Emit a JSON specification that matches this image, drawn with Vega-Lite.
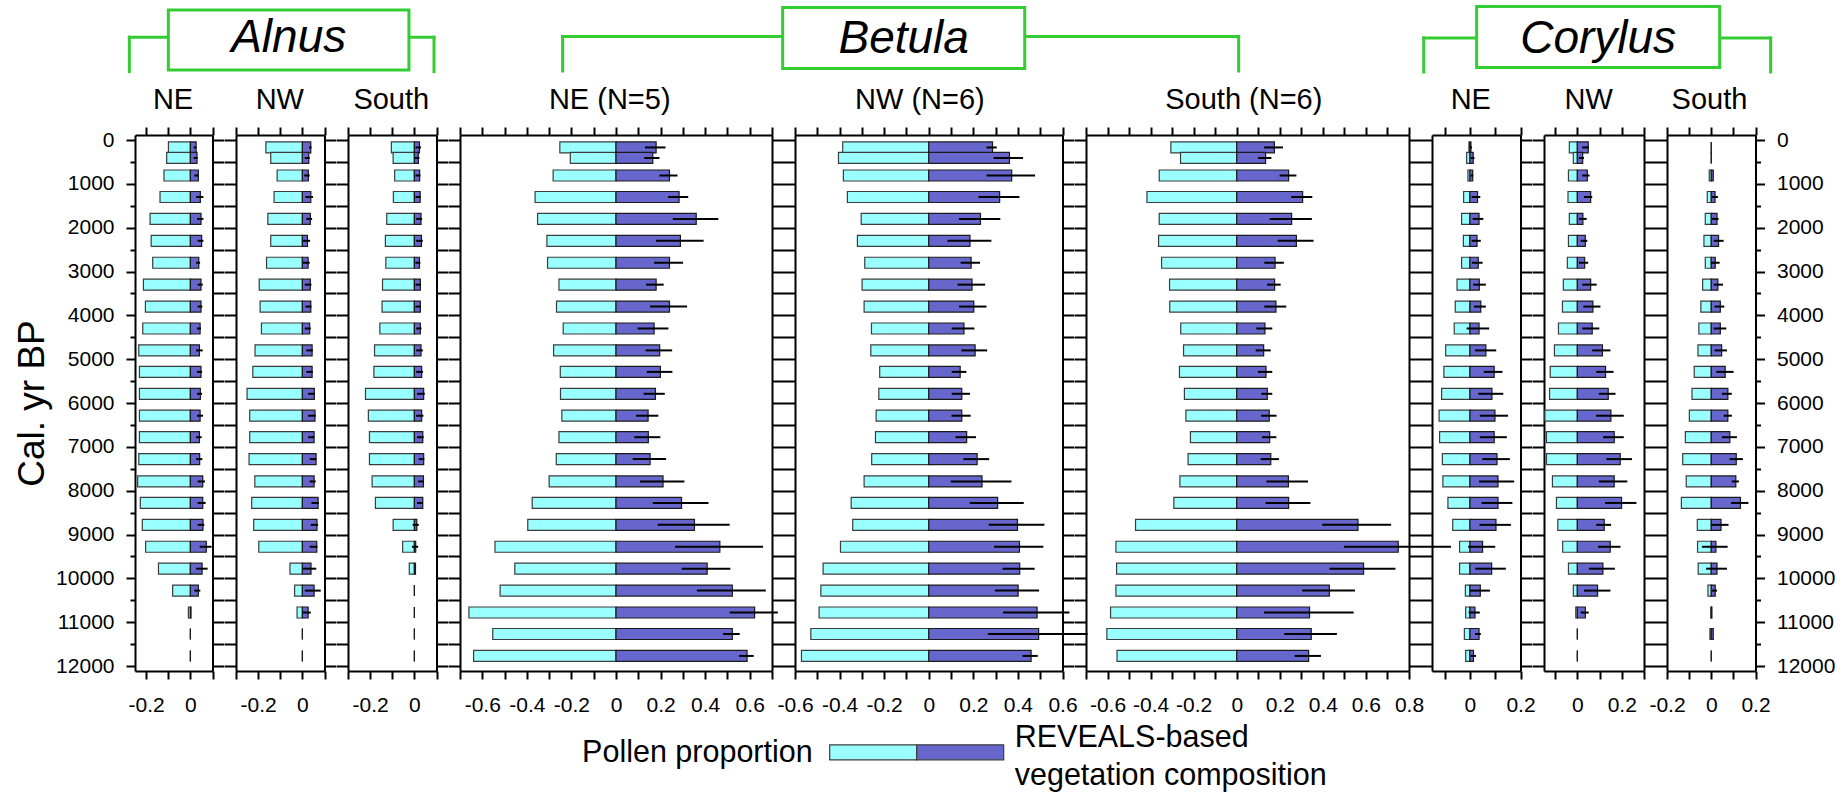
{
"$schema": "https://vega.github.io/schema/vega-lite/v6.json",
"background": "white",
"padding": {"left": 13, "top": 5, "right": 5, "bottom": 5},
"datasets": {
"alnus_ne": [
{"year":170,"pollen":-0.099,"reveals":0.026,"lo":0.015,"hi":0.028},
{"year":410,"pollen":-0.107,"reveals":0.030,"lo":0.015,"hi":0.033},
{"year":810,"pollen":-0.119,"reveals":0.036,"lo":0.018,"hi":0.036},
{"year":1300,"pollen":-0.137,"reveals":0.045,"lo":0.026,"hi":0.059},
{"year":1800,"pollen":-0.182,"reveals":0.048,"lo":0.030,"hi":0.059},
{"year":2300,"pollen":-0.177,"reveals":0.051,"lo":0.033,"hi":0.059},
{"year":2800,"pollen":-0.170,"reveals":0.038,"lo":0.026,"hi":0.044},
{"year":3300,"pollen":-0.212,"reveals":0.048,"lo":0.033,"hi":0.056},
{"year":3800,"pollen":-0.203,"reveals":0.048,"lo":0.033,"hi":0.054},
{"year":4300,"pollen":-0.215,"reveals":0.044,"lo":0.030,"hi":0.048},
{"year":4800,"pollen":-0.233,"reveals":0.041,"lo":0.026,"hi":0.056},
{"year":5290,"pollen":-0.230,"reveals":0.048,"lo":0.030,"hi":0.053},
{"year":5790,"pollen":-0.230,"reveals":0.045,"lo":0.030,"hi":0.053},
{"year":6290,"pollen":-0.230,"reveals":0.044,"lo":0.030,"hi":0.057},
{"year":6780,"pollen":-0.230,"reveals":0.041,"lo":0.026,"hi":0.051},
{"year":7280,"pollen":-0.233,"reveals":0.042,"lo":0.026,"hi":0.054},
{"year":7790,"pollen":-0.238,"reveals":0.056,"lo":0.033,"hi":0.066},
{"year":8280,"pollen":-0.226,"reveals":0.056,"lo":0.033,"hi":0.069},
{"year":8780,"pollen":-0.217,"reveals":0.057,"lo":0.033,"hi":0.063},
{"year":9280,"pollen":-0.202,"reveals":0.072,"lo":0.042,"hi":0.096},
{"year":9780,"pollen":-0.144,"reveals":0.053,"lo":0.026,"hi":0.078},
{"year":10280,"pollen":-0.080,"reveals":0.036,"lo":0.018,"hi":0.045},
{"year":10780,"pollen":-0.009,"reveals":0.003,"lo":0.003,"hi":0.003},
{"year":11270,"pollen":0,"reveals":0,"lo":0,"hi":0},
{"year":11770,"pollen":0,"reveals":0,"lo":0,"hi":0}
],
"alnus_nw": [
{"year":170,"pollen":-0.165,"reveals":0.038,"lo":0.030,"hi":0.041},
{"year":410,"pollen":-0.143,"reveals":0.029,"lo":0.011,"hi":0.033},
{"year":810,"pollen":-0.114,"reveals":0.027,"lo":0.008,"hi":0.033},
{"year":1300,"pollen":-0.128,"reveals":0.038,"lo":0.014,"hi":0.048},
{"year":1800,"pollen":-0.156,"reveals":0.036,"lo":0.018,"hi":0.044},
{"year":2300,"pollen":-0.143,"reveals":0.023,"lo":0.003,"hi":0.035},
{"year":2800,"pollen":-0.162,"reveals":0.026,"lo":0.003,"hi":0.033},
{"year":3300,"pollen":-0.195,"reveals":0.036,"lo":0.011,"hi":0.041},
{"year":3800,"pollen":-0.191,"reveals":0.038,"lo":0.014,"hi":0.041},
{"year":4300,"pollen":-0.185,"reveals":0.033,"lo":0.011,"hi":0.038},
{"year":4800,"pollen":-0.214,"reveals":0.044,"lo":0.018,"hi":0.047},
{"year":5290,"pollen":-0.224,"reveals":0.044,"lo":0.018,"hi":0.047},
{"year":5790,"pollen":-0.250,"reveals":0.054,"lo":0.026,"hi":0.056},
{"year":6290,"pollen":-0.238,"reveals":0.057,"lo":0.026,"hi":0.060},
{"year":6780,"pollen":-0.238,"reveals":0.053,"lo":0.026,"hi":0.053},
{"year":7280,"pollen":-0.241,"reveals":0.062,"lo":0.033,"hi":0.063},
{"year":7790,"pollen":-0.215,"reveals":0.053,"lo":0.033,"hi":0.060},
{"year":8280,"pollen":-0.229,"reveals":0.071,"lo":0.041,"hi":0.075},
{"year":8780,"pollen":-0.220,"reveals":0.066,"lo":0.038,"hi":0.071},
{"year":9280,"pollen":-0.197,"reveals":0.065,"lo":0.033,"hi":0.068},
{"year":9780,"pollen":-0.056,"reveals":0.039,"lo":0.003,"hi":0.063},
{"year":10280,"pollen":-0.035,"reveals":0.053,"lo":0.011,"hi":0.083},
{"year":10780,"pollen":-0.024,"reveals":0.026,"lo":0.003,"hi":0.038},
{"year":11270,"pollen":0,"reveals":0,"lo":0,"hi":0},
{"year":11770,"pollen":0,"reveals":0,"lo":0,"hi":0}
],
"alnus_s": [
{"year":170,"pollen":-0.104,"reveals":0.023,"lo":0.005,"hi":0.030},
{"year":410,"pollen":-0.096,"reveals":0.018,"lo":0.002,"hi":0.023},
{"year":810,"pollen":-0.089,"reveals":0.024,"lo":0.005,"hi":0.027},
{"year":1300,"pollen":-0.095,"reveals":0.026,"lo":0.005,"hi":0.029},
{"year":1800,"pollen":-0.125,"reveals":0.030,"lo":0.008,"hi":0.035},
{"year":2300,"pollen":-0.131,"reveals":0.032,"lo":0.008,"hi":0.038},
{"year":2800,"pollen":-0.129,"reveals":0.023,"lo":0.005,"hi":0.027},
{"year":3300,"pollen":-0.144,"reveals":0.027,"lo":0.005,"hi":0.030},
{"year":3800,"pollen":-0.146,"reveals":0.027,"lo":0.005,"hi":0.030},
{"year":4300,"pollen":-0.156,"reveals":0.027,"lo":0.008,"hi":0.032},
{"year":4800,"pollen":-0.180,"reveals":0.030,"lo":0.008,"hi":0.038},
{"year":5290,"pollen":-0.183,"reveals":0.033,"lo":0.008,"hi":0.039},
{"year":5790,"pollen":-0.221,"reveals":0.042,"lo":0.012,"hi":0.047},
{"year":6290,"pollen":-0.208,"reveals":0.033,"lo":0.008,"hi":0.041},
{"year":6780,"pollen":-0.203,"reveals":0.038,"lo":0.012,"hi":0.042},
{"year":7280,"pollen":-0.203,"reveals":0.042,"lo":0.020,"hi":0.045},
{"year":7790,"pollen":-0.191,"reveals":0.041,"lo":0.017,"hi":0.042},
{"year":8280,"pollen":-0.176,"reveals":0.038,"lo":0.012,"hi":0.038},
{"year":8780,"pollen":-0.096,"reveals":0.011,"lo":-0.008,"hi":0.020},
{"year":9280,"pollen":-0.053,"reveals":0.006,"lo":-0.011,"hi":0.017},
{"year":9780,"pollen":-0.023,"reveals":0.005,"lo":0.005,"hi":0.005},
{"year":10280,"pollen":0,"reveals":0,"lo":0,"hi":0},
{"year":10780,"pollen":0,"reveals":0,"lo":0,"hi":0},
{"year":11270,"pollen":0,"reveals":0,"lo":0,"hi":0},
{"year":11770,"pollen":0,"reveals":0,"lo":0,"hi":0}
],
"betula_ne": [
{"year":170,"pollen":-0.252,"reveals":0.180,"lo":0.130,"hi":0.222},
{"year":410,"pollen":-0.205,"reveals":0.165,"lo":0.127,"hi":0.195},
{"year":810,"pollen":-0.282,"reveals":0.240,"lo":0.195,"hi":0.276},
{"year":1300,"pollen":-0.363,"reveals":0.283,"lo":0.234,"hi":0.324},
{"year":1800,"pollen":-0.352,"reveals":0.360,"lo":0.255,"hi":0.459},
{"year":2300,"pollen":-0.310,"reveals":0.289,"lo":0.180,"hi":0.393},
{"year":2800,"pollen":-0.307,"reveals":0.240,"lo":0.171,"hi":0.301},
{"year":3300,"pollen":-0.256,"reveals":0.180,"lo":0.135,"hi":0.214},
{"year":3800,"pollen":-0.267,"reveals":0.240,"lo":0.153,"hi":0.319},
{"year":4300,"pollen":-0.237,"reveals":0.171,"lo":0.097,"hi":0.235},
{"year":4800,"pollen":-0.280,"reveals":0.196,"lo":0.133,"hi":0.252},
{"year":5290,"pollen":-0.250,"reveals":0.199,"lo":0.138,"hi":0.253},
{"year":5790,"pollen":-0.249,"reveals":0.177,"lo":0.124,"hi":0.219},
{"year":6290,"pollen":-0.243,"reveals":0.144,"lo":0.090,"hi":0.190},
{"year":6780,"pollen":-0.256,"reveals":0.145,"lo":0.082,"hi":0.199},
{"year":7280,"pollen":-0.268,"reveals":0.153,"lo":0.075,"hi":0.225},
{"year":7790,"pollen":-0.300,"reveals":0.211,"lo":0.108,"hi":0.307},
{"year":8280,"pollen":-0.376,"reveals":0.294,"lo":0.165,"hi":0.415},
{"year":8780,"pollen":-0.396,"reveals":0.352,"lo":0.187,"hi":0.510},
{"year":9280,"pollen":-0.543,"reveals":0.466,"lo":0.265,"hi":0.660},
{"year":9780,"pollen":-0.454,"reveals":0.409,"lo":0.295,"hi":0.513},
{"year":10280,"pollen":-0.520,"reveals":0.522,"lo":0.363,"hi":0.672},
{"year":10780,"pollen":-0.660,"reveals":0.622,"lo":0.510,"hi":0.726},
{"year":11270,"pollen":-0.553,"reveals":0.522,"lo":0.480,"hi":0.555},
{"year":11770,"pollen":-0.639,"reveals":0.588,"lo":0.552,"hi":0.618}
],
"betula_nw": [
{"year":170,"pollen":-0.386,"reveals":0.286,"lo":0.259,"hi":0.305},
{"year":410,"pollen":-0.405,"reveals":0.362,"lo":0.291,"hi":0.423},
{"year":810,"pollen":-0.383,"reveals":0.372,"lo":0.259,"hi":0.477},
{"year":1300,"pollen":-0.365,"reveals":0.318,"lo":0.223,"hi":0.407},
{"year":1800,"pollen":-0.303,"reveals":0.232,"lo":0.135,"hi":0.321},
{"year":2300,"pollen":-0.320,"reveals":0.185,"lo":0.084,"hi":0.281},
{"year":2800,"pollen":-0.287,"reveals":0.190,"lo":0.143,"hi":0.230},
{"year":3300,"pollen":-0.299,"reveals":0.194,"lo":0.129,"hi":0.253},
{"year":3800,"pollen":-0.290,"reveals":0.202,"lo":0.136,"hi":0.259},
{"year":4300,"pollen":-0.257,"reveals":0.158,"lo":0.103,"hi":0.205},
{"year":4800,"pollen":-0.260,"reveals":0.208,"lo":0.146,"hi":0.262},
{"year":5290,"pollen":-0.220,"reveals":0.141,"lo":0.103,"hi":0.169},
{"year":5790,"pollen":-0.224,"reveals":0.148,"lo":0.103,"hi":0.185},
{"year":6290,"pollen":-0.236,"reveals":0.148,"lo":0.102,"hi":0.188},
{"year":6780,"pollen":-0.239,"reveals":0.170,"lo":0.120,"hi":0.212},
{"year":7280,"pollen":-0.256,"reveals":0.217,"lo":0.155,"hi":0.271},
{"year":7790,"pollen":-0.290,"reveals":0.239,"lo":0.099,"hi":0.371},
{"year":8280,"pollen":-0.348,"reveals":0.309,"lo":0.184,"hi":0.426},
{"year":8780,"pollen":-0.341,"reveals":0.398,"lo":0.269,"hi":0.519},
{"year":9280,"pollen":-0.396,"reveals":0.407,"lo":0.293,"hi":0.514},
{"year":9780,"pollen":-0.474,"reveals":0.408,"lo":0.331,"hi":0.475},
{"year":10280,"pollen":-0.484,"reveals":0.401,"lo":0.297,"hi":0.495},
{"year":10780,"pollen":-0.492,"reveals":0.486,"lo":0.333,"hi":0.631},
{"year":11270,"pollen":-0.529,"reveals":0.493,"lo":0.265,"hi":0.713},
{"year":11770,"pollen":-0.571,"reveals":0.459,"lo":0.420,"hi":0.489}
],
"betula_s": [
{"year":170,"pollen":-0.306,"reveals":0.175,"lo":0.127,"hi":0.215},
{"year":410,"pollen":-0.261,"reveals":0.134,"lo":0.099,"hi":0.161},
{"year":810,"pollen":-0.360,"reveals":0.241,"lo":0.199,"hi":0.277},
{"year":1300,"pollen":-0.417,"reveals":0.306,"lo":0.253,"hi":0.351},
{"year":1800,"pollen":-0.360,"reveals":0.255,"lo":0.153,"hi":0.349},
{"year":2300,"pollen":-0.363,"reveals":0.277,"lo":0.190,"hi":0.357},
{"year":2800,"pollen":-0.349,"reveals":0.178,"lo":0.128,"hi":0.219},
{"year":3300,"pollen":-0.312,"reveals":0.176,"lo":0.141,"hi":0.204},
{"year":3800,"pollen":-0.311,"reveals":0.182,"lo":0.128,"hi":0.230},
{"year":4300,"pollen":-0.260,"reveals":0.131,"lo":0.091,"hi":0.165},
{"year":4800,"pollen":-0.247,"reveals":0.125,"lo":0.088,"hi":0.158},
{"year":5290,"pollen":-0.266,"reveals":0.136,"lo":0.099,"hi":0.165},
{"year":5790,"pollen":-0.243,"reveals":0.142,"lo":0.114,"hi":0.165},
{"year":6290,"pollen":-0.236,"reveals":0.151,"lo":0.113,"hi":0.185},
{"year":6780,"pollen":-0.215,"reveals":0.153,"lo":0.117,"hi":0.184},
{"year":7280,"pollen":-0.226,"reveals":0.158,"lo":0.111,"hi":0.196},
{"year":7790,"pollen":-0.264,"reveals":0.240,"lo":0.138,"hi":0.331},
{"year":8280,"pollen":-0.292,"reveals":0.241,"lo":0.134,"hi":0.342},
{"year":8780,"pollen":-0.470,"reveals":0.563,"lo":0.397,"hi":0.717},
{"year":9280,"pollen":-0.561,"reveals":0.750,"lo":0.498,"hi":0.995},
{"year":9780,"pollen":-0.558,"reveals":0.589,"lo":0.431,"hi":0.737},
{"year":10280,"pollen":-0.561,"reveals":0.430,"lo":0.304,"hi":0.549},
{"year":10780,"pollen":-0.586,"reveals":0.338,"lo":0.127,"hi":0.543},
{"year":11270,"pollen":-0.603,"reveals":0.346,"lo":0.221,"hi":0.465},
{"year":11770,"pollen":-0.556,"reveals":0.334,"lo":0.269,"hi":0.391}
],
"corylus_ne": [
{"year":170,"pollen":-0.004,"reveals":0.004,"lo":0.000,"hi":0.008},
{"year":410,"pollen":-0.013,"reveals":0.013,"lo":0.003,"hi":0.018},
{"year":810,"pollen":-0.008,"reveals":0.011,"lo":0.003,"hi":0.013},
{"year":1300,"pollen":-0.025,"reveals":0.030,"lo":0.007,"hi":0.041},
{"year":1800,"pollen":-0.033,"reveals":0.036,"lo":0.011,"hi":0.053},
{"year":2300,"pollen":-0.026,"reveals":0.028,"lo":0.007,"hi":0.043},
{"year":2800,"pollen":-0.033,"reveals":0.033,"lo":0.008,"hi":0.050},
{"year":3300,"pollen":-0.051,"reveals":0.037,"lo":0.013,"hi":0.063},
{"year":3800,"pollen":-0.058,"reveals":0.043,"lo":0.016,"hi":0.063},
{"year":4300,"pollen":-0.062,"reveals":0.036,"lo":-0.013,"hi":0.076},
{"year":4800,"pollen":-0.096,"reveals":0.063,"lo":0.020,"hi":0.104},
{"year":5290,"pollen":-0.103,"reveals":0.096,"lo":0.055,"hi":0.129},
{"year":5790,"pollen":-0.112,"reveals":0.087,"lo":0.033,"hi":0.132},
{"year":6290,"pollen":-0.122,"reveals":0.099,"lo":0.039,"hi":0.151},
{"year":6780,"pollen":-0.120,"reveals":0.096,"lo":0.039,"hi":0.146},
{"year":7280,"pollen":-0.109,"reveals":0.107,"lo":0.049,"hi":0.158},
{"year":7790,"pollen":-0.107,"reveals":0.111,"lo":0.036,"hi":0.175},
{"year":8280,"pollen":-0.087,"reveals":0.111,"lo":0.046,"hi":0.168},
{"year":8780,"pollen":-0.068,"reveals":0.103,"lo":0.038,"hi":0.162},
{"year":9280,"pollen":-0.041,"reveals":0.050,"lo":-0.007,"hi":0.100},
{"year":9780,"pollen":-0.041,"reveals":0.086,"lo":0.021,"hi":0.142},
{"year":10280,"pollen":-0.018,"reveals":0.041,"lo":0.000,"hi":0.079},
{"year":10780,"pollen":-0.017,"reveals":0.020,"lo":-0.005,"hi":0.039},
{"year":11270,"pollen":-0.022,"reveals":0.036,"lo":0.020,"hi":0.043},
{"year":11770,"pollen":-0.017,"reveals":0.014,"lo":0.003,"hi":0.024}
],
"corylus_nw": [
{"year":170,"pollen":-0.036,"reveals":0.049,"lo":0.022,"hi":0.052},
{"year":410,"pollen":-0.018,"reveals":0.024,"lo":0.007,"hi":0.030},
{"year":810,"pollen":-0.040,"reveals":0.045,"lo":0.022,"hi":0.055},
{"year":1300,"pollen":-0.042,"reveals":0.060,"lo":0.030,"hi":0.067},
{"year":1800,"pollen":-0.036,"reveals":0.025,"lo":0.007,"hi":0.042},
{"year":2300,"pollen":-0.040,"reveals":0.036,"lo":0.015,"hi":0.045},
{"year":2800,"pollen":-0.045,"reveals":0.033,"lo":0.007,"hi":0.049},
{"year":3300,"pollen":-0.063,"reveals":0.060,"lo":0.022,"hi":0.087},
{"year":3800,"pollen":-0.067,"reveals":0.070,"lo":0.027,"hi":0.104},
{"year":4300,"pollen":-0.085,"reveals":0.067,"lo":0.022,"hi":0.099},
{"year":4800,"pollen":-0.103,"reveals":0.113,"lo":0.067,"hi":0.149},
{"year":5290,"pollen":-0.122,"reveals":0.127,"lo":0.085,"hi":0.163},
{"year":5790,"pollen":-0.125,"reveals":0.139,"lo":0.097,"hi":0.172},
{"year":6290,"pollen":-0.146,"reveals":0.151,"lo":0.084,"hi":0.209},
{"year":6780,"pollen":-0.139,"reveals":0.166,"lo":0.116,"hi":0.209},
{"year":7280,"pollen":-0.139,"reveals":0.193,"lo":0.131,"hi":0.246},
{"year":7790,"pollen":-0.112,"reveals":0.166,"lo":0.097,"hi":0.225},
{"year":8280,"pollen":-0.094,"reveals":0.199,"lo":0.125,"hi":0.266},
{"year":8780,"pollen":-0.088,"reveals":0.121,"lo":0.085,"hi":0.152},
{"year":9280,"pollen":-0.066,"reveals":0.148,"lo":0.093,"hi":0.194},
{"year":9780,"pollen":-0.040,"reveals":0.115,"lo":0.052,"hi":0.169},
{"year":10280,"pollen":-0.018,"reveals":0.091,"lo":0.030,"hi":0.149},
{"year":10780,"pollen":-0.007,"reveals":0.036,"lo":0.015,"hi":0.051},
{"year":11270,"pollen":0,"reveals":0,"lo":0,"hi":0},
{"year":11770,"pollen":0,"reveals":0,"lo":0,"hi":0}
],
"corylus_s": [
{"year":170,"pollen":0,"reveals":0,"lo":0,"hi":0},
{"year":410,"pollen":0,"reveals":0,"lo":0,"hi":0},
{"year":810,"pollen":-0.009,"reveals":0.009,"lo":0.009,"hi":0.009},
{"year":1300,"pollen":-0.018,"reveals":0.017,"lo":0.003,"hi":0.030},
{"year":1800,"pollen":-0.027,"reveals":0.026,"lo":0.003,"hi":0.033},
{"year":2300,"pollen":-0.033,"reveals":0.033,"lo":0.011,"hi":0.056},
{"year":2800,"pollen":-0.027,"reveals":0.018,"lo":-0.002,"hi":0.038},
{"year":3300,"pollen":-0.039,"reveals":0.030,"lo":0.011,"hi":0.053},
{"year":3800,"pollen":-0.047,"reveals":0.041,"lo":0.015,"hi":0.059},
{"year":4300,"pollen":-0.056,"reveals":0.041,"lo":0.011,"hi":0.068},
{"year":4800,"pollen":-0.060,"reveals":0.047,"lo":0.015,"hi":0.071},
{"year":5290,"pollen":-0.077,"reveals":0.063,"lo":0.023,"hi":0.101},
{"year":5790,"pollen":-0.087,"reveals":0.075,"lo":0.048,"hi":0.093},
{"year":6290,"pollen":-0.099,"reveals":0.075,"lo":0.056,"hi":0.093},
{"year":6780,"pollen":-0.117,"reveals":0.084,"lo":0.048,"hi":0.116},
{"year":7280,"pollen":-0.129,"reveals":0.113,"lo":0.083,"hi":0.143},
{"year":7790,"pollen":-0.113,"reveals":0.111,"lo":0.093,"hi":0.125},
{"year":8280,"pollen":-0.135,"reveals":0.132,"lo":0.089,"hi":0.168},
{"year":8780,"pollen":-0.063,"reveals":0.044,"lo":0.000,"hi":0.078},
{"year":9280,"pollen":-0.062,"reveals":0.021,"lo":-0.042,"hi":0.074},
{"year":9780,"pollen":-0.059,"reveals":0.026,"lo":-0.023,"hi":0.071},
{"year":10280,"pollen":-0.015,"reveals":0.018,"lo":0.003,"hi":0.026},
{"year":10780,"pollen":-0.002,"reveals":0.003,"lo":0.003,"hi":0.003},
{"year":11270,"pollen":-0.006,"reveals":0.009,"lo":0.009,"hi":0.009},
{"year":11770,"pollen":0,"reveals":0,"lo":0,"hi":0}
]
},
"spacing": 5,
"bounds": "full",
"vconcat": [
{
"width": 1618, "height": 116,
"data": {"values": [{}]},
"layer": [
{"mark": {"type": "rule", "stroke": "#33CC33", "strokeWidth": 3, "strokeCap": "square"},
 "encoding": {"x": {"datum": -0.0035, "type": "quantitative", "scale": {"domain": [0, 1], "nice": false, "zero": false}, "axis": null}, "x2": {"datum": 0.1848}, "y": {"datum": 0.2784, "type": "quantitative", "scale": {"domain": [0, 1], "reverse": true, "nice": false, "zero": false}, "axis": null}}},
{"mark": {"type": "rule", "stroke": "#33CC33", "strokeWidth": 3, "strokeCap": "square"},
 "encoding": {"x": {"datum": -0.0035, "type": "quantitative"}, "y": {"datum": 0.2784, "type": "quantitative"}, "y2": {"datum": 0.574}}},
{"mark": {"type": "rule", "stroke": "#33CC33", "strokeWidth": 3, "strokeCap": "square"},
 "encoding": {"x": {"datum": 0.1848, "type": "quantitative"}, "y": {"datum": 0.2784, "type": "quantitative"}, "y2": {"datum": 0.574}}},
{"mark": {"type": "rect", "fill": "white", "stroke": "#33CC33", "strokeWidth": 3},
 "encoding": {"x": {"datum": 0.0206, "type": "quantitative"}, "x2": {"datum": 0.1693}, "y": {"datum": 0.0431, "type": "quantitative"}, "y2": {"datum": 0.5603}}},
{"mark": {"type": "text", "text": "Alnus", "fontSize": 46, "fontStyle": "italic", "align": "center", "baseline": "alphabetic", "font": "Liberation Sans", "color": "black"},
 "encoding": {"x": {"datum": 0.095, "type": "quantitative"}, "y": {"datum": 0.4078, "type": "quantitative"}}},
{"mark": {"type": "rule", "stroke": "#33CC33", "strokeWidth": 3, "strokeCap": "square"},
 "encoding": {"x": {"datum": 0.2643, "type": "quantitative"}, "x2": {"datum": 0.6821}, "y": {"datum": 0.2716, "type": "quantitative"}}},
{"mark": {"type": "rule", "stroke": "#33CC33", "strokeWidth": 3, "strokeCap": "square"},
 "encoding": {"x": {"datum": 0.2643, "type": "quantitative"}, "y": {"datum": 0.2716, "type": "quantitative"}, "y2": {"datum": 0.569}}},
{"mark": {"type": "rule", "stroke": "#33CC33", "strokeWidth": 3, "strokeCap": "square"},
 "encoding": {"x": {"datum": 0.6821, "type": "quantitative"}, "y": {"datum": 0.2716, "type": "quantitative"}, "y2": {"datum": 0.569}}},
{"mark": {"type": "rect", "fill": "white", "stroke": "#33CC33", "strokeWidth": 3},
 "encoding": {"x": {"datum": 0.4003, "type": "quantitative"}, "x2": {"datum": 0.5499}, "y": {"datum": 0.0224, "type": "quantitative"}, "y2": {"datum": 0.5474}}},
{"mark": {"type": "text", "text": "Betula", "fontSize": 46, "fontStyle": "italic", "align": "center", "baseline": "alphabetic", "font": "Liberation Sans", "color": "black"},
 "encoding": {"x": {"datum": 0.4751, "type": "quantitative"}, "y": {"datum": 0.418, "type": "quantitative"}}},
{"mark": {"type": "rule", "stroke": "#33CC33", "strokeWidth": 3, "strokeCap": "square"},
 "encoding": {"x": {"datum": 0.7965, "type": "quantitative"}, "x2": {"datum": 1.0109}, "y": {"datum": 0.2845, "type": "quantitative"}}},
{"mark": {"type": "rule", "stroke": "#33CC33", "strokeWidth": 3, "strokeCap": "square"},
 "encoding": {"x": {"datum": 0.7965, "type": "quantitative"}, "y": {"datum": 0.2845, "type": "quantitative"}, "y2": {"datum": 0.5776}}},
{"mark": {"type": "rule", "stroke": "#33CC33", "strokeWidth": 3, "strokeCap": "square"},
 "encoding": {"x": {"datum": 1.0109, "type": "quantitative"}, "y": {"datum": 0.2845, "type": "quantitative"}, "y2": {"datum": 0.5776}}},
{"mark": {"type": "rect", "fill": "white", "stroke": "#33CC33", "strokeWidth": 3},
 "encoding": {"x": {"datum": 0.8292, "type": "quantitative"}, "x2": {"datum": 0.9794}, "y": {"datum": 0.0138, "type": "quantitative"}, "y2": {"datum": 0.5379}}},
{"mark": {"type": "text", "text": "Corylus", "fontSize": 46, "fontStyle": "italic", "align": "center", "baseline": "alphabetic", "font": "Liberation Sans", "color": "black"},
 "encoding": {"x": {"datum": 0.9043, "type": "quantitative"}, "y": {"datum": 0.4138, "type": "quantitative"}}},
{"mark": {"type": "text", "text": "NE", "fontSize": 29, "align": "center", "baseline": "alphabetic", "font": "Liberation Sans", "color": "black"},
 "encoding": {"x": {"datum": 0.0235, "type": "quantitative"}, "y": {"datum": 0.8991, "type": "quantitative"}}},
{"mark": {"type": "text", "text": "NW", "fontSize": 29, "align": "center", "baseline": "alphabetic", "font": "Liberation Sans", "color": "black"},
 "encoding": {"x": {"datum": 0.0895, "type": "quantitative"}, "y": {"datum": 0.8991, "type": "quantitative"}}},
{"mark": {"type": "text", "text": "South", "fontSize": 29, "align": "center", "baseline": "alphabetic", "font": "Liberation Sans", "color": "black"},
 "encoding": {"x": {"datum": 0.1584, "type": "quantitative"}, "y": {"datum": 0.8991, "type": "quantitative"}}},
{"mark": {"type": "text", "text": "NE (N=5)", "fontSize": 29, "align": "center", "baseline": "alphabetic", "font": "Liberation Sans", "color": "black"},
 "encoding": {"x": {"datum": 0.2934, "type": "quantitative"}, "y": {"datum": 0.8991, "type": "quantitative"}}},
{"mark": {"type": "text", "text": "NW (N=6)", "fontSize": 29, "align": "center", "baseline": "alphabetic", "font": "Liberation Sans", "color": "black"},
 "encoding": {"x": {"datum": 0.4851, "type": "quantitative"}, "y": {"datum": 0.8991, "type": "quantitative"}}},
{"mark": {"type": "text", "text": "South (N=6)", "fontSize": 29, "align": "center", "baseline": "alphabetic", "font": "Liberation Sans", "color": "black"},
 "encoding": {"x": {"datum": 0.6853, "type": "quantitative"}, "y": {"datum": 0.8991, "type": "quantitative"}}},
{"mark": {"type": "text", "text": "NE", "fontSize": 29, "align": "center", "baseline": "alphabetic", "font": "Liberation Sans", "color": "black"},
 "encoding": {"x": {"datum": 0.8256, "type": "quantitative"}, "y": {"datum": 0.8991, "type": "quantitative"}}},
{"mark": {"type": "text", "text": "NW", "fontSize": 29, "align": "center", "baseline": "alphabetic", "font": "Liberation Sans", "color": "black"},
 "encoding": {"x": {"datum": 0.8985, "type": "quantitative"}, "y": {"datum": 0.8991, "type": "quantitative"}}},
{"mark": {"type": "text", "text": "South", "fontSize": 29, "align": "center", "baseline": "alphabetic", "font": "Liberation Sans", "color": "black"},
 "encoding": {"x": {"datum": 0.9731, "type": "quantitative"}, "y": {"datum": 0.8991, "type": "quantitative"}}}
]
},
{
"spacing": 23,
"bounds": "flush",
"hconcat": [
{
"width": 77.5, "height": 536, "data": {"name": "alnus_ne"},
"resolve": {"axis": {"x": "independent", "y": "independent"}},
"layer": [
{"mark": {"type": "bar", "orient": "horizontal", "size": 11, "fill": "#99FFFF", "stroke": "#3c3c3c", "strokeWidth": 1.2},
 "encoding": {
  "x": {"field": "pollen", "type": "quantitative", "scale": {"domain": [-0.25, 0.1], "nice": false, "zero": false}, "axis": {"orient": "bottom", "values": [-0.2, -0.1, 0, 0.1], "tickSize": 8, "labelPadding": 15, "labelExpr": "round(abs(datum.value)*10) % 2 === 0 ? toString(datum.value) : ''", "title": null}},
  "x2": {"datum": 0},
  "y": {"field": "year", "type": "quantitative", "scale": {"domain": [0, 12000], "reverse": true, "nice": false, "zero": false}, "axis": {"orient": "left", "values": [0,500,1000,1500,2000,2500,3000,3500,4000,4500,5000,5500,6000,6500,7000,7500,8000,8500,9000,9500,10000,10500,11000,11500,12000], "tickSize": {"condition": {"test": "datum.value % 1000 === 0", "value": 9}, "value": 5}, "labelPadding": 12, "labelExpr": "datum.value % 1000 === 0 ? toString(datum.value) : ''", "title": "Cal. yr BP", "titleFontSize": 37, "titlePadding": 4}}
 }},
{"mark": {"type": "bar", "orient": "horizontal", "size": 11, "fill": "#6666CC", "stroke": "#1a1a1a", "strokeWidth": 1.2},
 "encoding": {
  "x": {"field": "reveals", "type": "quantitative", "scale": {"domain": [-0.25, 0.1], "nice": false, "zero": false}, "axis": {"orient": "top", "values": [-0.2, -0.1, 0, 0.1], "tickSize": 8, "labels": false, "title": null}},
  "x2": {"datum": 0},
  "y": {"field": "year", "type": "quantitative", "scale": {"domain": [0, 12000], "reverse": true, "nice": false, "zero": false}, "axis": {"orient": "right", "values": [0,500,1000,1500,2000,2500,3000,3500,4000,4500,5000,5500,6000,6500,7000,7500,8000,8500,9000,9500,10000,10500,11000,11500,12000], "tickSize": 11.5, "labels": false, "title": null}}
 }},
{"mark": {"type": "rule", "stroke": "black", "strokeWidth": 2},
 "encoding": {
  "x": {"field": "lo", "type": "quantitative", "scale": {"domain": [-0.25, 0.1], "nice": false, "zero": false}, "axis": null},
  "x2": {"field": "hi"},
  "y": {"field": "year", "type": "quantitative", "scale": {"domain": [0, 12000], "reverse": true, "nice": false, "zero": false}, "axis": null}
 }}
]
},
{
"width": 88.5, "height": 536, "data": {"name": "alnus_nw"},
"resolve": {"axis": {"x": "independent", "y": "independent"}},
"layer": [
{"mark": {"type": "bar", "orient": "horizontal", "size": 11, "fill": "#99FFFF", "stroke": "#3c3c3c", "strokeWidth": 1.2},
 "encoding": {
  "x": {"field": "pollen", "type": "quantitative", "scale": {"domain": [-0.3, 0.1], "nice": false, "zero": false}, "axis": {"orient": "bottom", "values": [-0.3, -0.2, -0.1, 0, 0.1], "tickSize": 8, "labelPadding": 15, "labelExpr": "round(abs(datum.value)*10) % 2 === 0 ? toString(datum.value) : ''", "title": null}},
  "x2": {"datum": 0},
  "y": {"field": "year", "type": "quantitative", "scale": {"domain": [0, 12000], "reverse": true, "nice": false, "zero": false}, "axis": {"orient": "left", "values": [0,500,1000,1500,2000,2500,3000,3500,4000,4500,5000,5500,6000,6500,7000,7500,8000,8500,9000,9500,10000,10500,11000,11500,12000], "tickSize": 11.5, "labels": false, "title": null}}
 }},
{"mark": {"type": "bar", "orient": "horizontal", "size": 11, "fill": "#6666CC", "stroke": "#1a1a1a", "strokeWidth": 1.2},
 "encoding": {
  "x": {"field": "reveals", "type": "quantitative", "scale": {"domain": [-0.3, 0.1], "nice": false, "zero": false}, "axis": {"orient": "top", "values": [-0.3, -0.2, -0.1, 0, 0.1], "tickSize": 8, "labels": false, "title": null}},
  "x2": {"datum": 0},
  "y": {"field": "year", "type": "quantitative", "scale": {"domain": [0, 12000], "reverse": true, "nice": false, "zero": false}, "axis": {"orient": "right", "values": [0,500,1000,1500,2000,2500,3000,3500,4000,4500,5000,5500,6000,6500,7000,7500,8000,8500,9000,9500,10000,10500,11000,11500,12000], "tickSize": 11.5, "labels": false, "title": null}}
 }},
{"mark": {"type": "rule", "stroke": "black", "strokeWidth": 2},
 "encoding": {
  "x": {"field": "lo", "type": "quantitative", "scale": {"domain": [-0.3, 0.1], "nice": false, "zero": false}, "axis": null},
  "x2": {"field": "hi"},
  "y": {"field": "year", "type": "quantitative", "scale": {"domain": [0, 12000], "reverse": true, "nice": false, "zero": false}, "axis": null}
 }}
]
},
{
"width": 88.5, "height": 536, "data": {"name": "alnus_s"},
"resolve": {"axis": {"x": "independent", "y": "independent"}},
"layer": [
{"mark": {"type": "bar", "orient": "horizontal", "size": 11, "fill": "#99FFFF", "stroke": "#3c3c3c", "strokeWidth": 1.2},
 "encoding": {
  "x": {"field": "pollen", "type": "quantitative", "scale": {"domain": [-0.3, 0.1], "nice": false, "zero": false}, "axis": {"orient": "bottom", "values": [-0.3, -0.2, -0.1, 0, 0.1], "tickSize": 8, "labelPadding": 15, "labelExpr": "round(abs(datum.value)*10) % 2 === 0 ? toString(datum.value) : ''", "title": null}},
  "x2": {"datum": 0},
  "y": {"field": "year", "type": "quantitative", "scale": {"domain": [0, 12000], "reverse": true, "nice": false, "zero": false}, "axis": {"orient": "left", "values": [0,500,1000,1500,2000,2500,3000,3500,4000,4500,5000,5500,6000,6500,7000,7500,8000,8500,9000,9500,10000,10500,11000,11500,12000], "tickSize": 11.5, "labels": false, "title": null}}
 }},
{"mark": {"type": "bar", "orient": "horizontal", "size": 11, "fill": "#6666CC", "stroke": "#1a1a1a", "strokeWidth": 1.2},
 "encoding": {
  "x": {"field": "reveals", "type": "quantitative", "scale": {"domain": [-0.3, 0.1], "nice": false, "zero": false}, "axis": {"orient": "top", "values": [-0.3, -0.2, -0.1, 0, 0.1], "tickSize": 8, "labels": false, "title": null}},
  "x2": {"datum": 0},
  "y": {"field": "year", "type": "quantitative", "scale": {"domain": [0, 12000], "reverse": true, "nice": false, "zero": false}, "axis": {"orient": "right", "values": [0,500,1000,1500,2000,2500,3000,3500,4000,4500,5000,5500,6000,6500,7000,7500,8000,8500,9000,9500,10000,10500,11000,11500,12000], "tickSize": 11.5, "labels": false, "title": null}}
 }},
{"mark": {"type": "rule", "stroke": "black", "strokeWidth": 2},
 "encoding": {
  "x": {"field": "lo", "type": "quantitative", "scale": {"domain": [-0.3, 0.1], "nice": false, "zero": false}, "axis": null},
  "x2": {"field": "hi"},
  "y": {"field": "year", "type": "quantitative", "scale": {"domain": [0, 12000], "reverse": true, "nice": false, "zero": false}, "axis": null}
 }}
]
},
{
"width": 312, "height": 536, "data": {"name": "betula_ne"},
"resolve": {"axis": {"x": "independent", "y": "independent"}},
"layer": [
{"mark": {"type": "bar", "orient": "horizontal", "size": 11, "fill": "#99FFFF", "stroke": "#3c3c3c", "strokeWidth": 1.2},
 "encoding": {
  "x": {"field": "pollen", "type": "quantitative", "scale": {"domain": [-0.7, 0.7], "nice": false, "zero": false}, "axis": {"orient": "bottom", "values": [-0.7,-0.6,-0.5,-0.4,-0.3,-0.2,-0.1,0,0.1,0.2,0.3,0.4,0.5,0.6,0.7], "tickSize": 8, "labelPadding": 15, "labelExpr": "round(abs(datum.value)*10) % 2 === 0 ? toString(datum.value) : ''", "title": null}},
  "x2": {"datum": 0},
  "y": {"field": "year", "type": "quantitative", "scale": {"domain": [0, 12000], "reverse": true, "nice": false, "zero": false}, "axis": {"orient": "left", "values": [0,500,1000,1500,2000,2500,3000,3500,4000,4500,5000,5500,6000,6500,7000,7500,8000,8500,9000,9500,10000,10500,11000,11500,12000], "tickSize": 11.5, "labels": false, "title": null}}
 }},
{"mark": {"type": "bar", "orient": "horizontal", "size": 11, "fill": "#6666CC", "stroke": "#1a1a1a", "strokeWidth": 1.2},
 "encoding": {
  "x": {"field": "reveals", "type": "quantitative", "scale": {"domain": [-0.7, 0.7], "nice": false, "zero": false}, "axis": {"orient": "top", "values": [-0.7,-0.6,-0.5,-0.4,-0.3,-0.2,-0.1,0,0.1,0.2,0.3,0.4,0.5,0.6,0.7], "tickSize": 8, "labels": false, "title": null}},
  "x2": {"datum": 0},
  "y": {"field": "year", "type": "quantitative", "scale": {"domain": [0, 12000], "reverse": true, "nice": false, "zero": false}, "axis": {"orient": "right", "values": [0,500,1000,1500,2000,2500,3000,3500,4000,4500,5000,5500,6000,6500,7000,7500,8000,8500,9000,9500,10000,10500,11000,11500,12000], "tickSize": 11.5, "labels": false, "title": null}}
 }},
{"mark": {"type": "rule", "stroke": "black", "strokeWidth": 2},
 "encoding": {
  "x": {"field": "lo", "type": "quantitative", "scale": {"domain": [-0.7, 0.7], "nice": false, "zero": false}, "axis": null},
  "x2": {"field": "hi"},
  "y": {"field": "year", "type": "quantitative", "scale": {"domain": [0, 12000], "reverse": true, "nice": false, "zero": false}, "axis": null}
 }}
]
},
{
"width": 267.5, "height": 536, "data": {"name": "betula_nw"},
"resolve": {"axis": {"x": "independent", "y": "independent"}},
"layer": [
{"mark": {"type": "bar", "orient": "horizontal", "size": 11, "fill": "#99FFFF", "stroke": "#3c3c3c", "strokeWidth": 1.2},
 "encoding": {
  "x": {"field": "pollen", "type": "quantitative", "scale": {"domain": [-0.6, 0.6], "nice": false, "zero": false}, "axis": {"orient": "bottom", "values": [-0.6,-0.5,-0.4,-0.3,-0.2,-0.1,0,0.1,0.2,0.3,0.4,0.5,0.6], "tickSize": 8, "labelPadding": 15, "labelExpr": "round(abs(datum.value)*10) % 2 === 0 ? toString(datum.value) : ''", "title": null}},
  "x2": {"datum": 0},
  "y": {"field": "year", "type": "quantitative", "scale": {"domain": [0, 12000], "reverse": true, "nice": false, "zero": false}, "axis": {"orient": "left", "values": [0,500,1000,1500,2000,2500,3000,3500,4000,4500,5000,5500,6000,6500,7000,7500,8000,8500,9000,9500,10000,10500,11000,11500,12000], "tickSize": 11.5, "labels": false, "title": null}}
 }},
{"mark": {"type": "bar", "orient": "horizontal", "size": 11, "fill": "#6666CC", "stroke": "#1a1a1a", "strokeWidth": 1.2},
 "encoding": {
  "x": {"field": "reveals", "type": "quantitative", "scale": {"domain": [-0.6, 0.6], "nice": false, "zero": false}, "axis": {"orient": "top", "values": [-0.6,-0.5,-0.4,-0.3,-0.2,-0.1,0,0.1,0.2,0.3,0.4,0.5,0.6], "tickSize": 8, "labels": false, "title": null}},
  "x2": {"datum": 0},
  "y": {"field": "year", "type": "quantitative", "scale": {"domain": [0, 12000], "reverse": true, "nice": false, "zero": false}, "axis": {"orient": "right", "values": [0,500,1000,1500,2000,2500,3000,3500,4000,4500,5000,5500,6000,6500,7000,7500,8000,8500,9000,9500,10000,10500,11000,11500,12000], "tickSize": 11.5, "labels": false, "title": null}}
 }},
{"mark": {"type": "rule", "stroke": "black", "strokeWidth": 2},
 "encoding": {
  "x": {"field": "lo", "type": "quantitative", "scale": {"domain": [-0.6, 0.6], "nice": false, "zero": false}, "axis": null},
  "x2": {"field": "hi"},
  "y": {"field": "year", "type": "quantitative", "scale": {"domain": [0, 12000], "reverse": true, "nice": false, "zero": false}, "axis": null}
 }}
]
},
{
"width": 323, "height": 536, "data": {"name": "betula_s"},
"resolve": {"axis": {"x": "independent", "y": "independent"}},
"layer": [
{"mark": {"type": "bar", "orient": "horizontal", "size": 11, "fill": "#99FFFF", "stroke": "#3c3c3c", "strokeWidth": 1.2},
 "encoding": {
  "x": {"field": "pollen", "type": "quantitative", "scale": {"domain": [-0.7, 0.8], "nice": false, "zero": false}, "axis": {"orient": "bottom", "values": [-0.7,-0.6,-0.5,-0.4,-0.3,-0.2,-0.1,0,0.1,0.2,0.3,0.4,0.5,0.6,0.7,0.8], "tickSize": 8, "labelPadding": 15, "labelExpr": "round(abs(datum.value)*10) % 2 === 0 ? toString(datum.value) : ''", "title": null}},
  "x2": {"datum": 0},
  "y": {"field": "year", "type": "quantitative", "scale": {"domain": [0, 12000], "reverse": true, "nice": false, "zero": false}, "axis": {"orient": "left", "values": [0,500,1000,1500,2000,2500,3000,3500,4000,4500,5000,5500,6000,6500,7000,7500,8000,8500,9000,9500,10000,10500,11000,11500,12000], "tickSize": 11.5, "labels": false, "title": null}}
 }},
{"mark": {"type": "bar", "orient": "horizontal", "size": 11, "fill": "#6666CC", "stroke": "#1a1a1a", "strokeWidth": 1.2},
 "encoding": {
  "x": {"field": "reveals", "type": "quantitative", "scale": {"domain": [-0.7, 0.8], "nice": false, "zero": false}, "axis": {"orient": "top", "values": [-0.7,-0.6,-0.5,-0.4,-0.3,-0.2,-0.1,0,0.1,0.2,0.3,0.4,0.5,0.6,0.7,0.8], "tickSize": 8, "labels": false, "title": null}},
  "x2": {"datum": 0},
  "y": {"field": "year", "type": "quantitative", "scale": {"domain": [0, 12000], "reverse": true, "nice": false, "zero": false}, "axis": {"orient": "right", "values": [0,500,1000,1500,2000,2500,3000,3500,4000,4500,5000,5500,6000,6500,7000,7500,8000,8500,9000,9500,10000,10500,11000,11500,12000], "tickSize": 11.5, "labels": false, "title": null}}
 }},
{"mark": {"type": "rule", "stroke": "black", "strokeWidth": 2},
 "encoding": {
  "x": {"field": "lo", "type": "quantitative", "scale": {"domain": [-0.7, 0.8], "nice": false, "zero": false}, "axis": null},
  "x2": {"field": "hi"},
  "y": {"field": "year", "type": "quantitative", "scale": {"domain": [0, 12000], "reverse": true, "nice": false, "zero": false}, "axis": null}
 }}
]
},
{
"width": 88.5, "height": 536, "data": {"name": "corylus_ne"},
"resolve": {"axis": {"x": "independent", "y": "independent"}},
"layer": [
{"mark": {"type": "bar", "orient": "horizontal", "size": 11, "fill": "#99FFFF", "stroke": "#3c3c3c", "strokeWidth": 1.2},
 "encoding": {
  "x": {"field": "pollen", "type": "quantitative", "scale": {"domain": [-0.15, 0.2], "nice": false, "zero": false}, "axis": {"orient": "bottom", "values": [-0.1, 0, 0.1, 0.2], "tickSize": 8, "labelPadding": 15, "labelExpr": "round(abs(datum.value)*10) % 2 === 0 ? toString(datum.value) : ''", "title": null}},
  "x2": {"datum": 0},
  "y": {"field": "year", "type": "quantitative", "scale": {"domain": [0, 12000], "reverse": true, "nice": false, "zero": false}, "axis": {"orient": "left", "values": [0,500,1000,1500,2000,2500,3000,3500,4000,4500,5000,5500,6000,6500,7000,7500,8000,8500,9000,9500,10000,10500,11000,11500,12000], "tickSize": 11.5, "labels": false, "title": null}}
 }},
{"mark": {"type": "bar", "orient": "horizontal", "size": 11, "fill": "#6666CC", "stroke": "#1a1a1a", "strokeWidth": 1.2},
 "encoding": {
  "x": {"field": "reveals", "type": "quantitative", "scale": {"domain": [-0.15, 0.2], "nice": false, "zero": false}, "axis": {"orient": "top", "values": [-0.1, 0, 0.1, 0.2], "tickSize": 8, "labels": false, "title": null}},
  "x2": {"datum": 0},
  "y": {"field": "year", "type": "quantitative", "scale": {"domain": [0, 12000], "reverse": true, "nice": false, "zero": false}, "axis": {"orient": "right", "values": [0,500,1000,1500,2000,2500,3000,3500,4000,4500,5000,5500,6000,6500,7000,7500,8000,8500,9000,9500,10000,10500,11000,11500,12000], "tickSize": 11.5, "labels": false, "title": null}}
 }},
{"mark": {"type": "rule", "stroke": "black", "strokeWidth": 2},
 "encoding": {
  "x": {"field": "lo", "type": "quantitative", "scale": {"domain": [-0.15, 0.2], "nice": false, "zero": false}, "axis": null},
  "x2": {"field": "hi"},
  "y": {"field": "year", "type": "quantitative", "scale": {"domain": [0, 12000], "reverse": true, "nice": false, "zero": false}, "axis": null}
 }}
]
},
{
"width": 100, "height": 536, "data": {"name": "corylus_nw"},
"resolve": {"axis": {"x": "independent", "y": "independent"}},
"layer": [
{"mark": {"type": "bar", "orient": "horizontal", "size": 11, "fill": "#99FFFF", "stroke": "#3c3c3c", "strokeWidth": 1.2},
 "encoding": {
  "x": {"field": "pollen", "type": "quantitative", "scale": {"domain": [-0.15, 0.3], "nice": false, "zero": false}, "axis": {"orient": "bottom", "values": [-0.1, 0, 0.1, 0.2, 0.3], "tickSize": 8, "labelPadding": 15, "labelExpr": "round(abs(datum.value)*10) % 2 === 0 ? toString(datum.value) : ''", "title": null}},
  "x2": {"datum": 0},
  "y": {"field": "year", "type": "quantitative", "scale": {"domain": [0, 12000], "reverse": true, "nice": false, "zero": false}, "axis": {"orient": "left", "values": [0,500,1000,1500,2000,2500,3000,3500,4000,4500,5000,5500,6000,6500,7000,7500,8000,8500,9000,9500,10000,10500,11000,11500,12000], "tickSize": 11.5, "labels": false, "title": null}}
 }},
{"mark": {"type": "bar", "orient": "horizontal", "size": 11, "fill": "#6666CC", "stroke": "#1a1a1a", "strokeWidth": 1.2},
 "encoding": {
  "x": {"field": "reveals", "type": "quantitative", "scale": {"domain": [-0.15, 0.3], "nice": false, "zero": false}, "axis": {"orient": "top", "values": [-0.1, 0, 0.1, 0.2, 0.3], "tickSize": 8, "labels": false, "title": null}},
  "x2": {"datum": 0},
  "y": {"field": "year", "type": "quantitative", "scale": {"domain": [0, 12000], "reverse": true, "nice": false, "zero": false}, "axis": {"orient": "right", "values": [0,500,1000,1500,2000,2500,3000,3500,4000,4500,5000,5500,6000,6500,7000,7500,8000,8500,9000,9500,10000,10500,11000,11500,12000], "tickSize": 11.5, "labels": false, "title": null}}
 }},
{"mark": {"type": "rule", "stroke": "black", "strokeWidth": 2},
 "encoding": {
  "x": {"field": "lo", "type": "quantitative", "scale": {"domain": [-0.15, 0.3], "nice": false, "zero": false}, "axis": null},
  "x2": {"field": "hi"},
  "y": {"field": "year", "type": "quantitative", "scale": {"domain": [0, 12000], "reverse": true, "nice": false, "zero": false}, "axis": null}
 }}
]
},
{
"width": 88.5, "height": 536, "data": {"name": "corylus_s"},
"resolve": {"axis": {"x": "independent", "y": "independent"}},
"layer": [
{"mark": {"type": "bar", "orient": "horizontal", "size": 11, "fill": "#99FFFF", "stroke": "#3c3c3c", "strokeWidth": 1.2},
 "encoding": {
  "x": {"field": "pollen", "type": "quantitative", "scale": {"domain": [-0.2, 0.2], "nice": false, "zero": false}, "axis": {"orient": "bottom", "values": [-0.2, -0.1, 0, 0.1, 0.2], "tickSize": 8, "labelPadding": 15, "labelExpr": "round(abs(datum.value)*10) % 2 === 0 ? toString(datum.value) : ''", "title": null}},
  "x2": {"datum": 0},
  "y": {"field": "year", "type": "quantitative", "scale": {"domain": [0, 12000], "reverse": true, "nice": false, "zero": false}, "axis": {"orient": "left", "values": [0,500,1000,1500,2000,2500,3000,3500,4000,4500,5000,5500,6000,6500,7000,7500,8000,8500,9000,9500,10000,10500,11000,11500,12000], "tickSize": 11.5, "labels": false, "title": null}}
 }},
{"mark": {"type": "bar", "orient": "horizontal", "size": 11, "fill": "#6666CC", "stroke": "#1a1a1a", "strokeWidth": 1.2},
 "encoding": {
  "x": {"field": "reveals", "type": "quantitative", "scale": {"domain": [-0.2, 0.2], "nice": false, "zero": false}, "axis": {"orient": "top", "values": [-0.2, -0.1, 0, 0.1, 0.2], "tickSize": 8, "labels": false, "title": null}},
  "x2": {"datum": 0},
  "y": {"field": "year", "type": "quantitative", "scale": {"domain": [0, 12000], "reverse": true, "nice": false, "zero": false}, "axis": {"orient": "right", "values": [0,500,1000,1500,2000,2500,3000,3500,4000,4500,5000,5500,6000,6500,7000,7500,8000,8500,9000,9500,10000,10500,11000,11500,12000], "tickSize": {"condition": {"test": "datum.value % 1000 === 0", "value": 9}, "value": 5}, "labelPadding": 12, "labelExpr": "datum.value % 1000 === 0 ? toString(datum.value) : ''", "title": null}}
 }},
{"mark": {"type": "rule", "stroke": "black", "strokeWidth": 2},
 "encoding": {
  "x": {"field": "lo", "type": "quantitative", "scale": {"domain": [-0.2, 0.2], "nice": false, "zero": false}, "axis": null},
  "x2": {"field": "hi"},
  "y": {"field": "year", "type": "quantitative", "scale": {"domain": [0, 12000], "reverse": true, "nice": false, "zero": false}, "axis": null}
 }}
]
}
]
},
{
"width": 868.7, "height": 60,
"data": {"values": [{"series": "Pollen proportion"}, {"series": "REVEALS-based\nvegetation composition"}]},
"layer": [
{"mark": {"type": "rect", "stroke": "#3c3c3c", "strokeWidth": 1.2},
 "encoding": {
  "x": {"field": "series", "type": "nominal", "scale": {"type": "band", "domain": ["Pollen proportion", "REVEALS-based\nvegetation composition"], "range": [694.7, 868.7], "paddingInner": 0, "paddingOuter": 0}, "axis": null},
  "y": {"datum": 0.4133, "type": "quantitative", "scale": {"domain": [0, 1], "reverse": true, "nice": false, "zero": false}, "axis": null},
  "y2": {"datum": 0.6633},
  "fill": {"field": "series", "type": "nominal", "scale": {"domain": ["Pollen proportion", "REVEALS-based\nvegetation composition"], "range": ["#99FFFF", "#6666CC"]}, "legend": null}
 }},
{"transform": [{"filter": "datum.series === 'Pollen proportion'"}],
 "mark": {"type": "text", "align": "right", "baseline": "alphabetic", "dx": -17, "fontSize": 30.5, "font": "Liberation Sans", "color": "black"},
 "encoding": {
  "x": {"field": "series", "type": "nominal", "bandPosition": 0},
  "y": {"datum": 0.6933, "type": "quantitative"},
  "text": {"field": "series"}
 }},
{"transform": [{"filter": "datum.series !== 'Pollen proportion'"}],
 "mark": {"type": "text", "align": "left", "baseline": "alphabetic", "dx": 11, "fontSize": 30.5, "font": "Liberation Sans", "color": "black", "lineBreak": "\n", "lineHeight": 38},
 "encoding": {
  "x": {"field": "series", "type": "nominal", "bandPosition": 1},
  "y": {"datum": 0.455, "type": "quantitative"},
  "text": {"field": "series"}
 }}
]
}
],
"config": {
 "view": {"stroke": null},
 "font": "Liberation Sans",
 "axis": {"domainColor": "black", "domainWidth": 2, "tickColor": "black", "tickWidth": 2, "labelColor": "black", "labelFontSize": 21, "labelFont": "Liberation Sans", "grid": false, "titleColor": "black", "titleFontWeight": "normal", "titleFont": "Liberation Sans", "labelOverlap": false, "labelFlush": false, "labelBound": false},
 "title": {"fontWeight": "normal", "color": "black", "font": "Liberation Sans", "fontSize": 29}
}
}
